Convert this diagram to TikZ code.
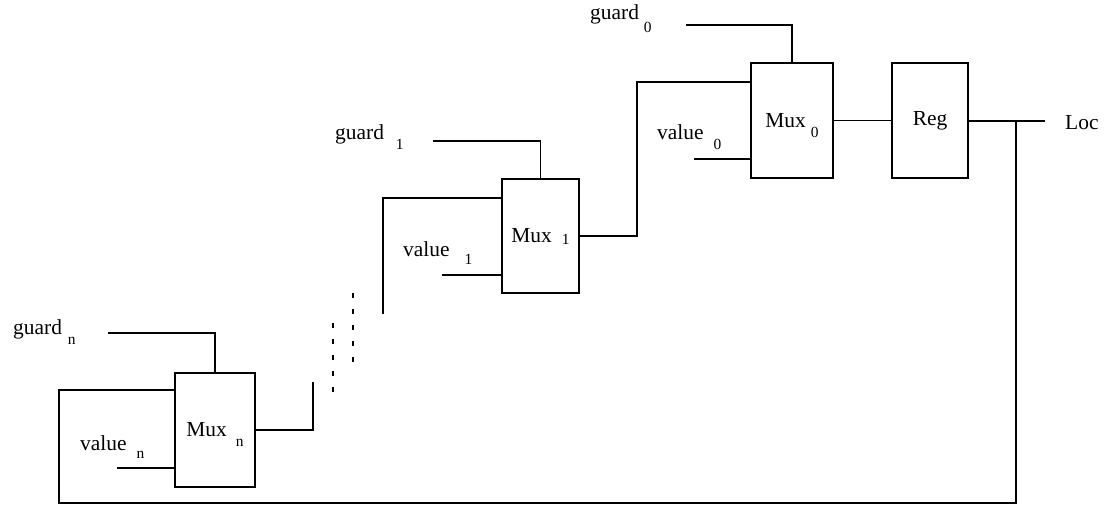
\documentclass[tikz,border=0pt]{standalone}
\usepackage{fontspec}
\setmainfont{Liberation Serif}
\newcommand{\mainsize}{\fontsize{21.5}{25}\selectfont}
\newcommand{\subsize}{\fontsize{15.5}{17}\selectfont}
\newcommand{\sbs}[3]{\hspace{#1bp}\raisebox{-#2bp}[0pt][0pt]{\subsize #3}}
\tikzset{
  wire/.style={line width=1.9bp, line cap=rect},
  dotwire/.style={line width=2.2bp, dash pattern=on 5bp off 11bp},
  lbl/.style={inner sep=0pt, anchor=base west, font=\mainsize},
  blk/.style={draw, line width=1.9bp, rectangle, inner sep=0pt, font=\mainsize},
}
\begin{document}
\begin{tikzpicture}[x=1bp, y=-1bp]
\useasboundingbox (0,0) rectangle (1107,506);

% blocks
\node[blk, minimum width=80bp, minimum height=114bp] (mn) at (215,430) {Mux\sbs{9}{10}{n}};
\node[blk, minimum width=77bp, minimum height=114bp] (m1) at (540.5,236) {Mux\sbs{10}{2}{1}};
\node[blk, minimum width=82bp, minimum height=115bp] (m0) at (792,120.5) {Mux\sbs{5}{10}{0}};
\node[blk, minimum width=76bp, minimum height=115bp] (reg) at (930,120.5) {Reg};

% labels
\node[lbl] (gn) at (13,335) {guard\sbs{6}{10}{n}};
\node[lbl] (vn) at (80,450) {value\sbs{10}{8}{n}};
\node[lbl] (g1) at (335,140) {guard\sbs{12}{10}{1}};
\node[lbl] (v1) at (403,257) {value\sbs{15}{8}{1}};
\node[lbl] (g0) at (590,20) {guard\sbs{5}{13}{0}};
\node[lbl] (v0) at (657,140) {value\sbs{10}{10}{0}};
\node[lbl] (loc) at (1065,130) {Loc};

% free ends and corners
\coordinate (gns) at (109,333);
\coordinate (vns) at (118,468);
\coordinate (g1s) at (434,141);
\coordinate (v1s) at (443,275);
\coordinate (g0s) at (687,25);
\coordinate (v0s) at (695,159);
\coordinate (cn) at (313,383);
\coordinate (c1) at (383,313);
\coordinate (k1) at (637,82);
\coordinate (locend) at (1044,121);
\coordinate (jn) at (1016,121);
\coordinate (fb) at (59,503);
\coordinate (da1) at (333,323);
\coordinate (da2) at (333,392);
\coordinate (db1) at (353,293);
\coordinate (db2) at (353,362);

% guard inputs
\draw[wire] (gns) -| (mn.north);
\draw[wire] (g1s) -| (m1.north);
\draw[wire] (g0s) -| (m0.north);

% value inputs
\draw[wire] (vns) -- (vns -| mn.west);
\draw[wire] (v1s) -- (v1s -| m1.west);
\draw[wire] (v0s) -- (v0s -| m0.west);

% chain
\draw[wire] (mn.east) -| (cn);
\draw[dotwire] (da1) -- (da2);
\draw[dotwire] (db1) -- (db2);
\draw[wire] (c1) |- ([yshift=-20bp]m1.north west);
\draw[wire] (m1.east) -| (k1) -- (k1 -| m0.west);
\draw[wire] (m0.east) -- (reg.west);
\draw[wire] (reg.east |- locend) -- (locend);

% feedback
\draw[wire] (jn) |- (fb) |- ([yshift=-18bp]mn.north west);
\end{tikzpicture}
\end{document}
